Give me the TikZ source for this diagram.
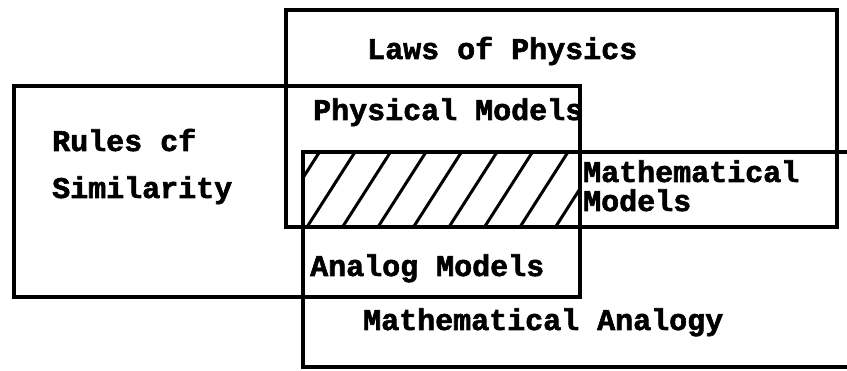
\documentclass[tikz,border=0pt]{standalone}
\usepackage{fontspec}
\newfontfamily\tw{Liberation Mono Bold}[FakeBold=2]
\tikzset{
  boxline/.style={line width=3.6pt, line cap=rect, line join=miter},
  hatchline/.style={line width=3pt},
  lbl/.style={font=\tw\fontsize{30}{30}\selectfont, inner sep=0pt, anchor=base west},
}
\begin{document}
\begin{tikzpicture}[x=1pt,y=-1pt]
\useasboundingbox (0,0) rectangle (847,371);
% hatched triple intersection
\begin{scope}
  \clip (303,152) rectangle (580,227);
  \foreach \k in {-3,...,8}{
    \draw[hatchline] ({307+35.5*\k},227) -- ({355+35.5*\k},152);
  }
\end{scope}
% labels
\node[lbl] (laws) at (367,59) {Laws of Physics};
\node[lbl] (phys) at (313,120) {Physical Models};
\node[lbl] (rules1) at (52,151) {Rules cf};
\node[lbl] (rules2) at (52,198) {Similarity};
\node[lbl] (math1) at (583,182) {Mathematical};
\node[lbl] (math2) at (583,211) {Models};
\node[lbl] (analog) at (310,276) {Analog Models};
\node[lbl] (analogy) at (363,330) {Mathematical Analogy};
% rectangles
\draw[boxline] (286,10) rectangle (837,227);
\draw[boxline] (14,86) rectangle (580,297);
\draw[boxline] (847,152) -- (303,152) -- (303,367) -- (847,367);
\end{tikzpicture}
\end{document}
